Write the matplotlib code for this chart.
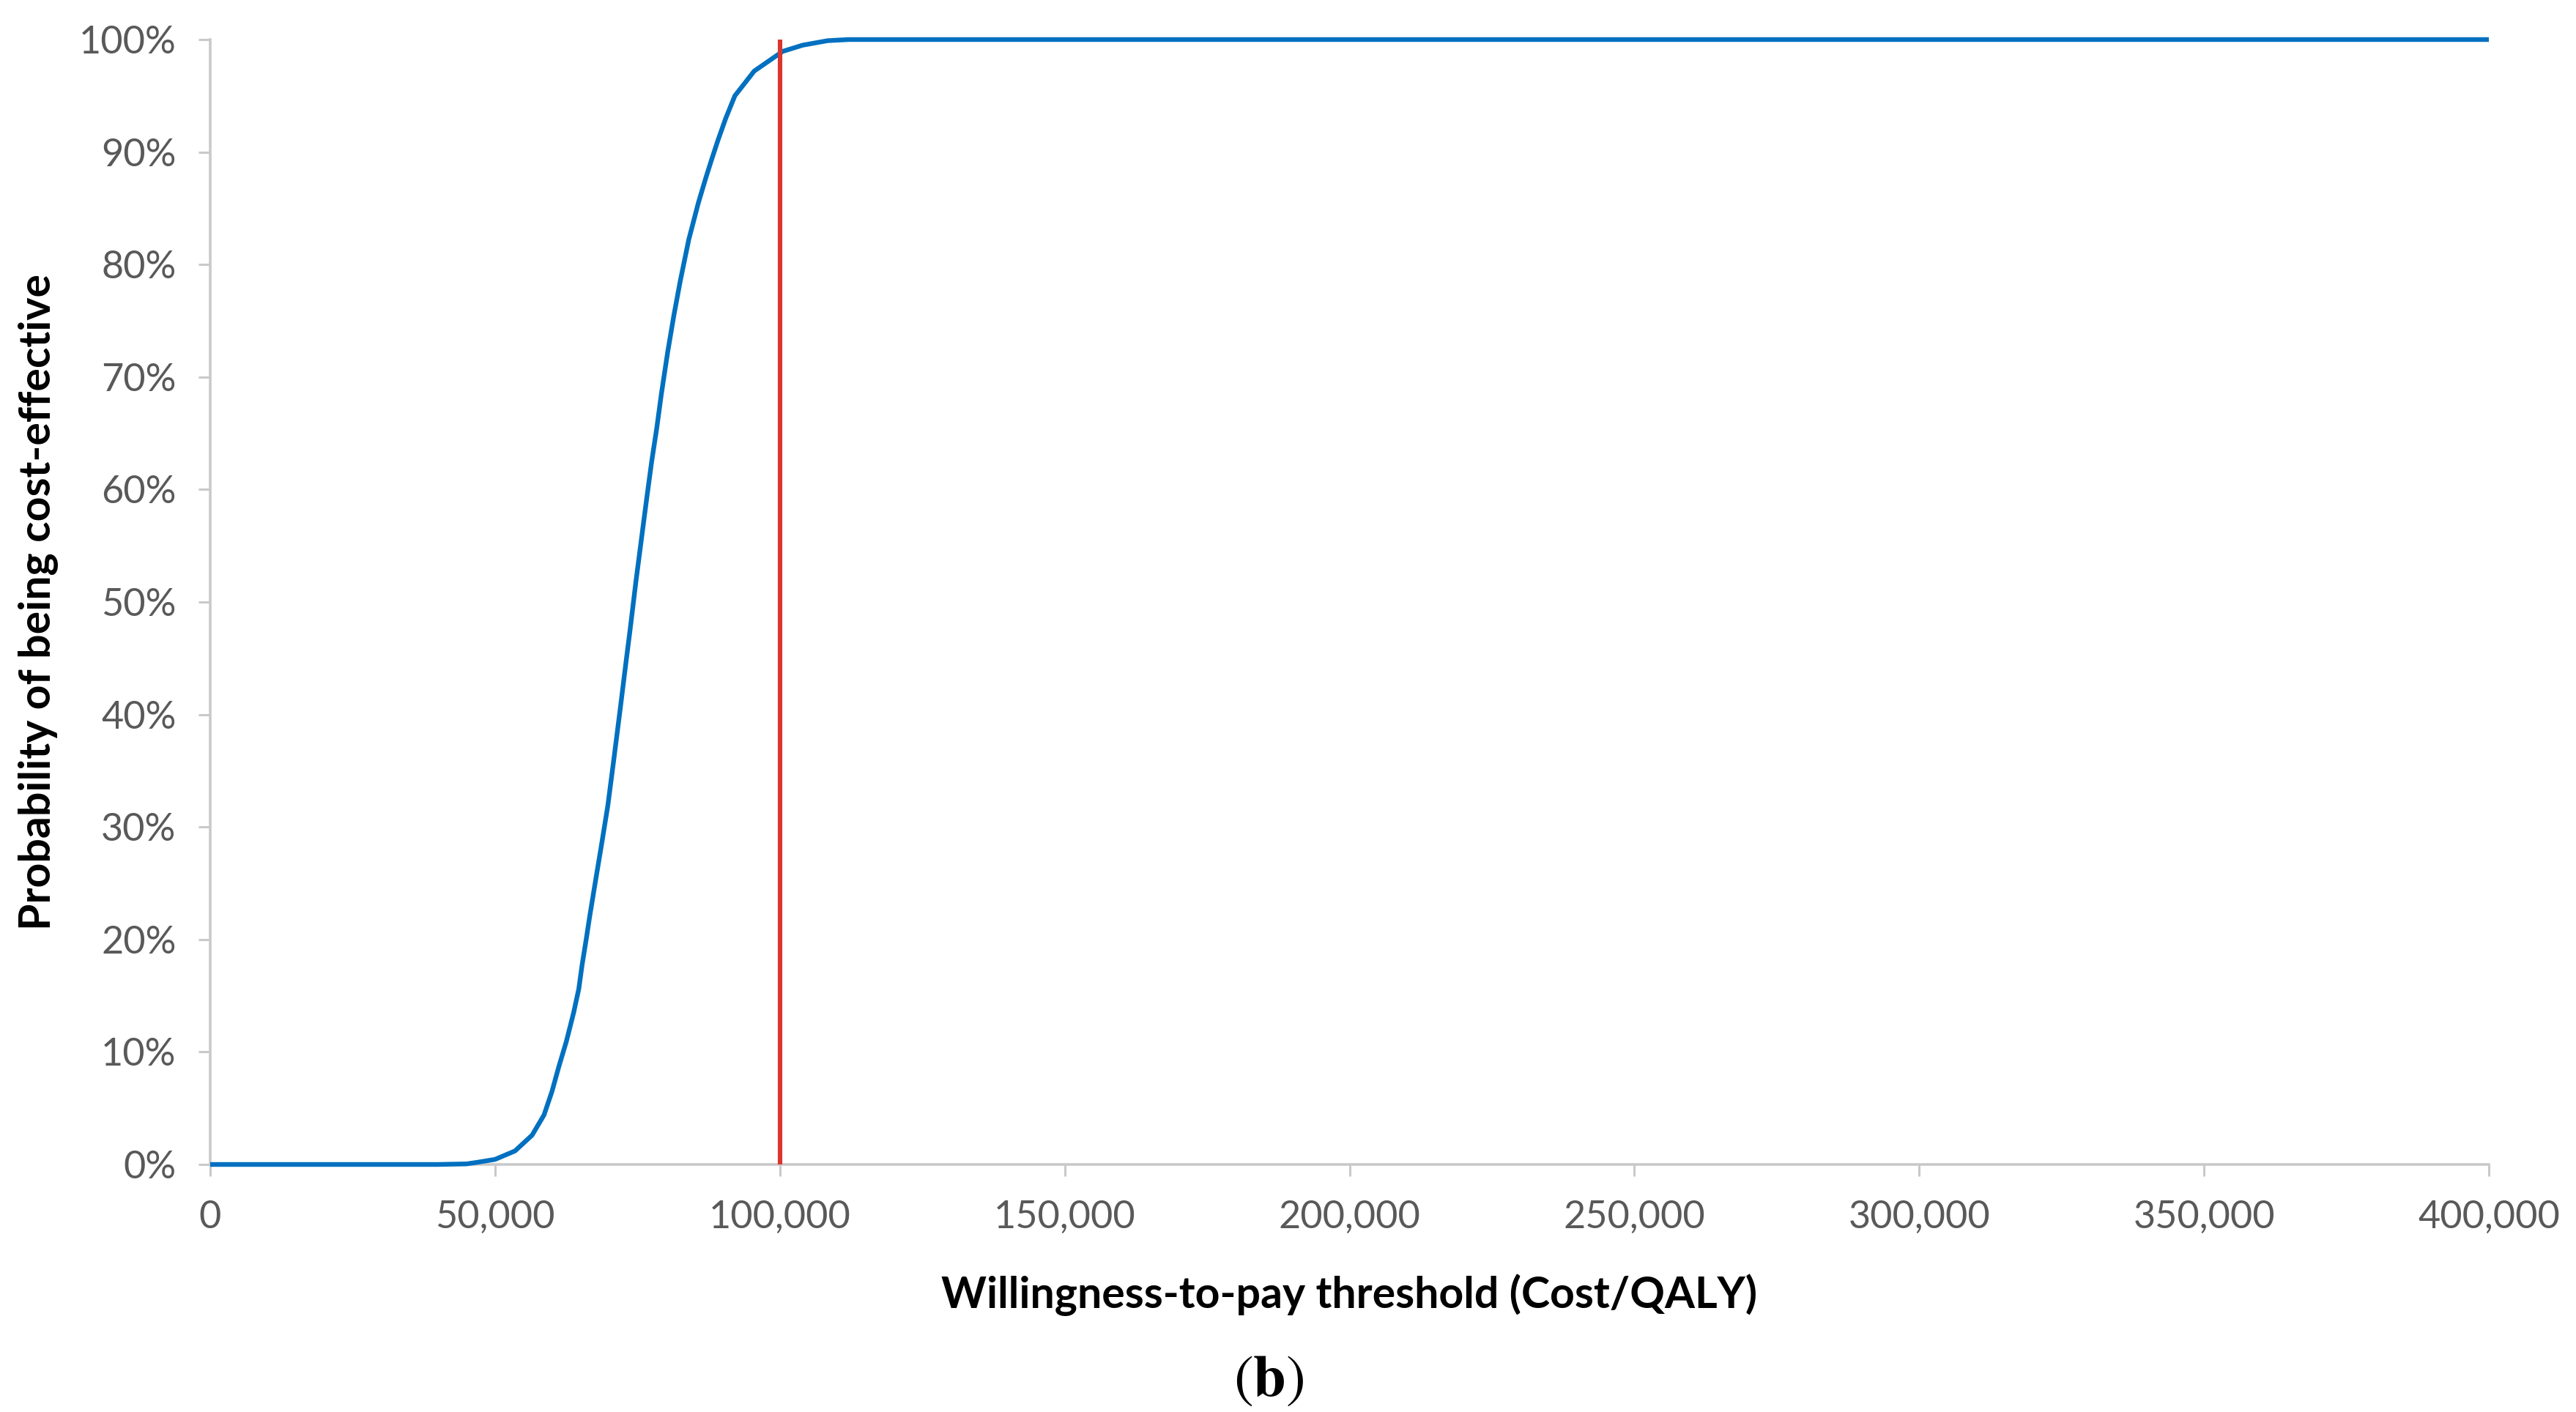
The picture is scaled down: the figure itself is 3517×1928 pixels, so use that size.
import matplotlib
matplotlib.use("Agg")
import matplotlib.pyplot as plt
from matplotlib.ticker import FuncFormatter

# ---- data ----
wtp = [0, 20000, 40000, 45000, 47000, 50000, 53500, 56500, 58600, 60000,
       61200, 62500, 63800, 64700, 65300, 66000, 66600, 67700, 68750, 69800,
       70900, 72000, 73000, 73700, 74750, 75800, 76700, 77500, 78400, 79200,
       80300, 81400, 82500, 84000, 85700, 87000, 88000, 89100, 90500, 92100,
       95500, 100500, 104000, 108400, 112000, 150000, 200000, 300000, 400000]
prob = [0.0, 0.0, 0.0, 0.0005, 0.002, 0.0045, 0.012, 0.026, 0.044, 0.065,
        0.087, 0.109, 0.135, 0.156, 0.178, 0.200, 0.220, 0.254, 0.286, 0.319,
        0.362, 0.406, 0.447, 0.475, 0.519, 0.560, 0.595, 0.625, 0.655, 0.685,
        0.722, 0.755, 0.785, 0.822, 0.855, 0.877, 0.893, 0.910, 0.930, 0.950,
        0.972, 0.9895, 0.995, 0.999, 1.0, 1.0, 1.0, 1.0, 1.0]
threshold_x = [100000, 100000]
threshold_y = [0.0, 1.0]
x_ticks = [0, 50000, 100000, 150000, 200000, 250000, 300000, 350000, 400000]
y_ticks = [0.0, 0.1, 0.2, 0.3, 0.4, 0.5, 0.6, 0.7, 0.8, 0.9, 1.0]

x_label = "Willingness-to-pay threshold (Cost/QALY)"
y_label = "Probability of being cost-effective"
panel_label = r"$(\mathbf{b})$"

plt.rcParams['font.family'] = ['Lato', 'DejaVu Sans']
plt.rcParams['mathtext.fontset'] = 'stix'

W, H, DPI = 3517, 1928, 100
fig = plt.figure(figsize=(W / DPI, H / DPI), dpi=DPI)
fig.patch.set_facecolor('white')

ax = fig.add_axes([287 / W, 1 - 1590 / H, (3398 - 287) / W, (1590 - 54) / H])

ax.plot(wtp, prob, color='#0070C0', lw=4.6, solid_capstyle='butt',
        solid_joinstyle='round', zorder=5, clip_on=False)
ax.plot(threshold_x, threshold_y, color='#DC3530', lw=4.4, zorder=6,
        solid_capstyle='butt', clip_on=False)

ax.set_xlim(0, 400000)
ax.set_ylim(0, 1)
ax.set_xticks(x_ticks)
ax.set_yticks(y_ticks)
ax.xaxis.set_major_formatter(FuncFormatter(lambda v, p: f"{int(round(v)):,}"))
ax.yaxis.set_major_formatter(FuncFormatter(lambda v, p: f"{int(round(v * 100))}%"))

grey = '#C9C9C9'
for s in ['top', 'right']:
    ax.spines[s].set_visible(False)
for s in ['left', 'bottom']:
    ax.spines[s].set_color(grey)
    ax.spines[s].set_linewidth(2.6)

ax.tick_params(axis='both', direction='out', length=11.5, width=2.2,
               color=grey, labelcolor='#595959', labelsize=37.5)
ax.tick_params(axis='y', pad=22)
ax.tick_params(axis='x', pad=24)

ax.set_xlabel(x_label, fontsize=42.5, fontweight='bold', color='black', labelpad=38)
ax.set_ylabel(y_label, fontsize=42.5, fontweight='bold', color='black', labelpad=20)

fig.text(1732 / W, 1 - 1885 / H, panel_label, fontsize=58, ha='center',
         va='center', color='black')

fig.savefig('out.png', dpi=DPI, facecolor='white')
